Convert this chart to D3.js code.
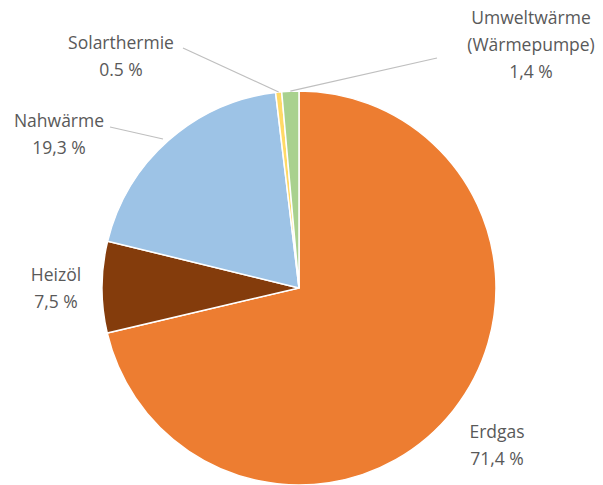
<!DOCTYPE html>
<html>
<head>
<meta charset="utf-8">
<script src="https://cdn.jsdelivr.net/npm/d3@7"></script>
<style>
  body { margin: 0; background: #fff; }
  text { font-family: "Open Sans", "Noto Sans", sans-serif; font-size: 17.5px; fill: #595959; }
</style>
</head>
<body>
<svg id="chart" width="603" height="485"></svg>
<script>
// shares of heating energy, clockwise from 12 o'clock
const categories = ["Erdgas", "Heizöl", "Nahwärme", "Solarthermie", "Umweltwärme"];
const values = [71.4, 7.5, 19.3, 0.5, 1.4];
const colors = ["#ED7D31", "#843C0C", "#9DC3E6", "#FFD966", "#A9D18E"];
const labelLines = [
  ["Erdgas", "71,4 %"],
  ["Heizöl", "7,5 %"],
  ["Nahwärme", "19,3 %"],
  ["Solarthermie", "0.5 %"],
  ["Umweltwärme", "(Wärmepumpe)", "1,4 %"]
];

const cx = 299, cy = 288, r = 197;
const svg = d3.select("#chart");
const g = svg.append("g").attr("transform", `translate(${cx},${cy})`);

const pie = d3.pie().sort(null).value(d => d)(values);
const arc = d3.arc().innerRadius(0).outerRadius(r);

g.selectAll("path.slice")
  .data(pie)
  .enter().append("path")
  .attr("class", "slice")
  .attr("d", arc)
  .attr("fill", (d, i) => colors[i])
  .attr("stroke", "#fff")
  .attr("stroke-width", 1.5);

// label placement (centre of first text line, px relative to svg)
const labelPos = [[497, 432], [56, 275], [59, 121], [121, 43], [531, 18]];
const lineH = 27;

labelLines.forEach((lines, i) => {
  const t = svg.append("text")
    .attr("text-anchor", "middle")
    .attr("x", labelPos[i][0])
    .attr("y", labelPos[i][1] + 6);
  lines.forEach((s, k) => {
    t.append("tspan")
      .attr("x", labelPos[i][0])
      .attr("dy", k === 0 ? 0 : lineH)
      .text(s);
  });
});

// leader lines: from label to slice edge
const leader = d3.line();
function edgePoint(i, frac) {
  const a = pie[i].startAngle + (pie[i].endAngle - pie[i].startAngle) * frac;
  return [cx + Math.sin(a) * r, cy - Math.cos(a) * r];
}
const leaders = [
  [[183, 48], edgePoint(3, 0.5)],
  [[110, 127], [163, 139]],
  [[437, 58], edgePoint(4, 0.5)]
];
svg.selectAll("path.leader")
  .data(leaders)
  .enter().append("path")
  .attr("class", "leader")
  .attr("d", d => leader(d))
  .attr("fill", "none")
  .attr("stroke", "#BFBFBF")
  .attr("stroke-width", 1.2);
</script>
</body>
</html>
